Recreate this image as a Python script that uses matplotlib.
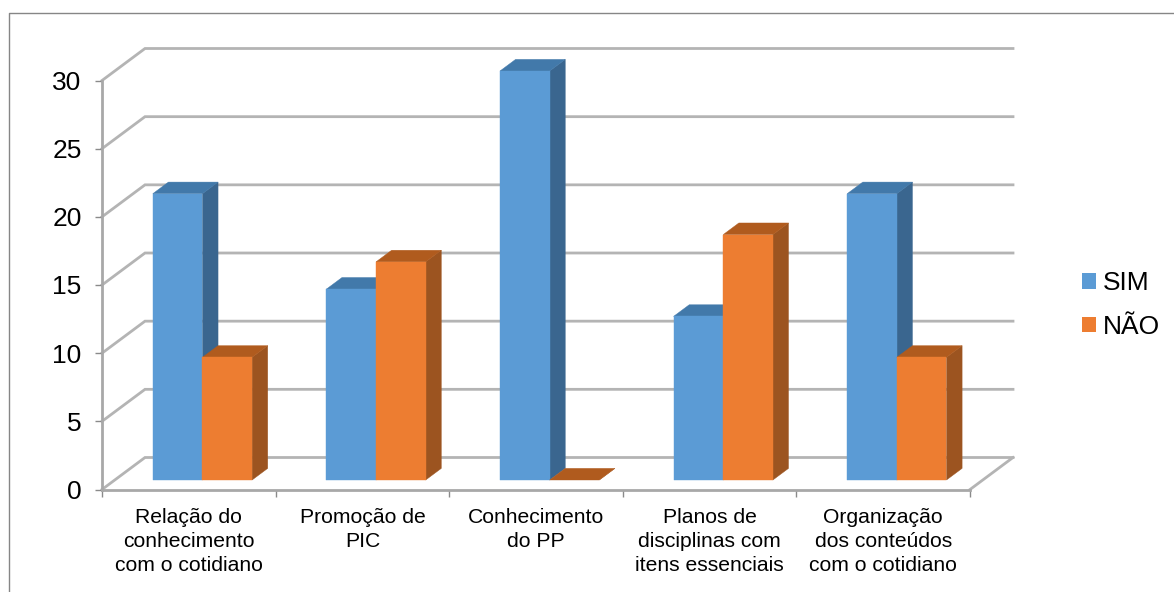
import matplotlib
matplotlib.use("Agg")
import matplotlib.pyplot as plt
from matplotlib.lines import Line2D
from matplotlib.patches import Polygon, Patch

categories = ["Relação do\nconhecimento\ncom o cotidiano", "Promoção de\nPIC", "Conhecimento\ndo PP",
              "Planos de\ndisciplinas com\nitens essenciais", "Organização\ndos conteúdos\ncom o cotidiano"]
sim = [21, 14, 30, 12, 21]
nao = [9, 16, 0, 18, 9]
yticks = [0, 5, 10, 15, 20, 25, 30]

W, H = 1174, 592
plt.rcParams['font.family'] = ['Liberation Sans', 'DejaVu Sans']
fig = plt.figure(figsize=(W/100, H/100), dpi=100)
L, R, T, B = 102, 970, 80.5, 489.5
ax = fig.add_axes([L/W, 1-B/H, (R-L)/W, (B-T)/H])
ax.set_xlim(0, 5)
ax.set_ylim(0, 30)
ppx = 5/(R-L)      # data x per pixel
ppy = 30/(B-T)     # data y per pixel
DX, DY = 43*ppx, 32*ppy

def proj(x, y, d):
    return (x + d*DX, y + d*DY)

GRID = '#b4b4b4'
for v in yticks:
    xs, ys = zip(proj(0, v, 0), proj(0, v, 1), proj(5, v, 1))
    ax.plot(xs, ys, color=GRID, lw=2.0, clip_on=False, zorder=1, solid_joinstyle='miter')
xs, ys = zip(proj(5, 0, 0), proj(5, 0, 1))
ax.plot(xs, ys, color=GRID, lw=2.0, clip_on=False, zorder=1)

D0, D1 = 0.297, 0.66
GAP, BW = 0.219, 0.286
FRONT = ['#5b9bd5', '#ed7d31']
TOP = ['#4279aa', '#b05b1e']
SIDE = ['#3a668f', '#9c5420']

def bar(x, v, s, z):
    x2 = x + BW
    quad = lambda pts, c: ax.add_patch(Polygon(pts, closed=True, fc=c, ec=c, lw=0.3, clip_on=False, zorder=z))
    quad([proj(x2, 0, D0), proj(x2, 0, D1), proj(x2, v, D1), proj(x2, v, D0)], SIDE[s])
    quad([proj(x, v, D0), proj(x2, v, D0), proj(x2, v, D1), proj(x, v, D1)], TOP[s])
    if v > 0:
        quad([proj(x, 0, D0), proj(x2, 0, D0), proj(x2, v, D0), proj(x, v, D0)], FRONT[s])

z = 3
for i in range(len(categories)):
    bar(i + GAP, sim[i], 0, z)
    bar(i + GAP + BW, nao[i], 1, z + 1)
    z += 2

for s in ['top', 'right']:
    ax.spines[s].set_visible(False)
for s in ['left', 'bottom']:
    ax.spines[s].set_color('#a8a8a8')
    ax.spines[s].set_linewidth(2.0)
    ax.spines[s].set_zorder(2)

ax.set_yticks(yticks)
ax.tick_params(axis='y', length=4.7, width=1, color='#8a8a8a', labelsize=19, pad=10, labelcolor='black')
ax.set_xticks(range(6))
ax.set_xticklabels([])
ax.tick_params(axis='x', which='major', length=5, width=1, color='#8a8a8a')
ax.set_xticks([i + 0.5 for i in range(5)], minor=True)
ax.set_xticklabels(categories, minor=True, fontsize=15.2, linespacing=1.36, color='black')
ax.tick_params(axis='x', which='minor', length=0, pad=13)

handles = [Patch(fc=FRONT[0], ec='none', label='SIM'), Patch(fc=FRONT[1], ec='none', label='NÃO')]
fig.legend(handles=handles, loc='center left', bbox_to_anchor=(1082/W, 1-305/H), frameon=False,
           fontsize=19, handlelength=0.53, handleheight=0.53, handletextpad=0.27,
           labelspacing=0.74, borderpad=0, borderaxespad=0)

frame = '#868686'
fig.add_artist(Line2D([8.5/W, 8.5/W, 1], [0, 1-12.5/H, 1-12.5/H], color=frame, lw=1, transform=fig.transFigure))
fig.savefig('out.png', dpi=100)
